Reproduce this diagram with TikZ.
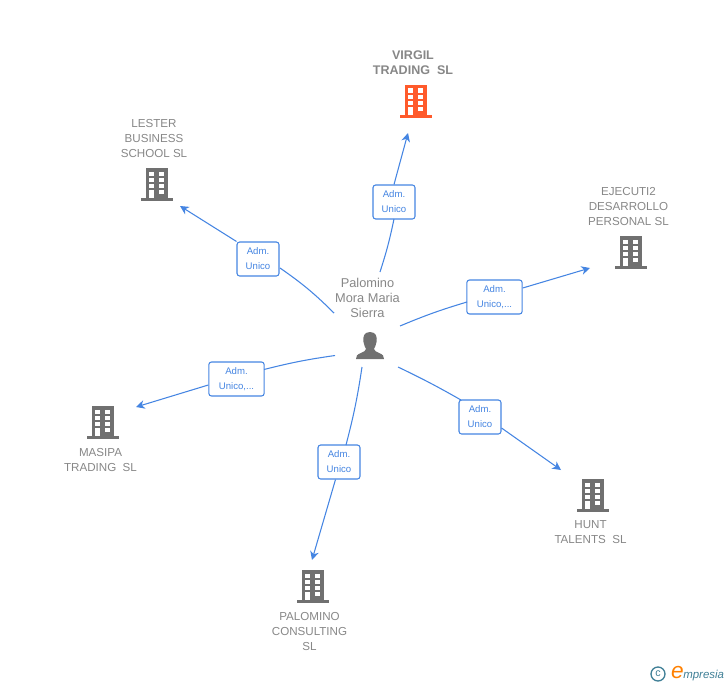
\documentclass[tikz,border=0pt]{standalone}
\usepackage{fontspec}
\setmainfont{Liberation Sans}
\usetikzlibrary{arrows.meta}
\definecolor{linkblue}{HTML}{4585E2}
\definecolor{labgray}{HTML}{878787}
\definecolor{icongray}{HTML}{707070}
\definecolor{hot}{HTML}{FF5A2B}
\definecolor{teal1}{HTML}{3F7F96}
\tikzset{
  x=0.75pt,y=-0.75pt,
  conn/.style={draw=linkblue,line width=0.8pt},
  arrowconn/.style={conn,-{Stealth[length=6.5pt,width=6.5pt,inset=2pt]}},
  role/.style={draw=linkblue,line width=0.8pt,rounded corners=2pt,fill=white,inner sep=0pt,
     text width=#1,minimum height=25.5pt,align=center,text=linkblue,font=\fontsize{7.2}{11.2}\selectfont},
  role/.default=31.5pt,
  company/.style={text=labgray,align=center,inner sep=0pt,font=\fontsize{8.7}{11.2}\selectfont},
  hotcompany/.style={text=labgray,align=center,inner sep=0pt,font=\fontsize{9.4}{11.2}\selectfont\bfseries},
  person/.style={text=labgray,align=center,inner sep=0pt,font=\fontsize{9.6}{11.2}\selectfont},
  pics/bldg/.style={code={
    \fill[#1] (-10.5,-16) rectangle (11.5,14);
    \fill[#1] (-15,13.5) rectangle (16.5,16.5);
    \foreach \yy in {-12.5,-6,0,6} {
      \fill[white] (2.7,\yy) rectangle (7.5,\yy+4.4);
    }
    \foreach \yy in {-12.5,-6,0} {
      \fill[white] (-7.3,\yy) rectangle (-2.5,\yy+4.4);
    }
    \fill[white] (-7.3,6) rectangle (-2.5,13.5);
  }}
}
\begin{document}
\begin{tikzpicture}
\useasboundingbox (0,0) rectangle (728,685);
% buildings
\pic at (415,101) {bldg=hot};
\pic at (156,184) {bldg=icongray};
\pic at (630,252) {bldg=icongray};
\pic at (102,422) {bldg=icongray};
\pic at (592,495) {bldg=icongray};
\pic at (312,586) {bldg=icongray};
% person
\fill[icongray] (370,332) .. controls (364,332) and (362.5,337) .. (363.5,342)
  .. controls (364,345) and (365,347) .. (366,349)
  .. controls (365.5,351) and (364,351.5) .. (361,353)
  .. controls (357,354.5) and (356,356) .. (356,359) -- (384,359)
  .. controls (384,356) and (383,354.5) .. (379,353)
  .. controls (376,351.5) and (374.5,351) .. (374,349)
  .. controls (375,347) and (376,345) .. (376.5,342)
  .. controls (377.5,337) and (376,332) .. (370,332) -- cycle;
% labels
\node[hotcompany] (tvirgil) at (413,62.8) {VIRGIL\\TRADING\ \ SL};
\node[company] (tlester) at (154,138.5) {LESTER\\BUSINESS\\SCHOOL SL};
\node[company] (tejecuti) at (628.5,206.5) {EJECUTI2\\DESARROLLO\\PERSONAL SL};
\node[company] (tmasipa) at (100.5,459.8) {MASIPA\\TRADING\ \ SL};
\node[company] (thunt) at (590.5,532) {HUNT\\TALENTS\ \ SL};
\node[company] (tpalomino) at (309.5,631.5) {PALOMINO\\CONSULTING\\SL};
\node[person] (center) at (367.5,298) {Palomino\\Mora Maria\\Sierra};
% role boxes
\node[role] (rvirgil) at (394,202) {Adm.\\Unico};
\node[role] (rlester) at (258,259) {Adm.\\Unico};
\node[role=41.5pt] (rejecuti) at (494.5,297) {Adm.\\Unico,...};
\node[role=41.5pt] (rmasipa) at (236.5,379) {Adm.\\Unico,...};
\node[role] (rhunt) at (480,417) {Adm.\\Unico};
\node[role] (rpalomino) at (339,462) {Adm.\\Unico};
% free ends
\coordinate (s1) at (380,272); \coordinate (e1) at (408,133);
\coordinate (s2) at (334,313); \coordinate (e2) at (180,206);
\coordinate (s3) at (400,326); \coordinate (e3) at (590,268);
\coordinate (s4) at (398,367); \coordinate (e4) at (561,470);
\coordinate (s5) at (362,367); \coordinate (e5) at (312,560);
\coordinate (s6) at (335,355.5); \coordinate (e6) at (136,407);
\coordinate (i1) at (394,219); \coordinate (i2) at (280,268);
\coordinate (i3) at (467,302); \coordinate (i4) at (461,400);
\coordinate (i5) at (346,445); \coordinate (i6) at (264,369.5);
% connectors
\draw[conn] (s1) to[bend right=3] (i1);
\draw[arrowconn] (rvirgil.north) to (e1);
\draw[conn] (s2) to[bend right=5] (i2);
\draw[arrowconn] (rlester.north west) to (e2);
\draw[conn] (s3) to[bend left=3] (i3);
\draw[arrowconn] (rejecuti.east) ++(0,-9) to (e3);
\draw[conn] (s4) to[bend left=2] (i4);
\draw[arrowconn] (rhunt.east) ++(0,11) to (e4);
\draw[conn] (s5) to[bend left=3] (i5);
\draw[arrowconn] (rpalomino.south) ++(-3.5,0) to (e5);
\draw[conn] (s6) to[bend right=3] (i6);
\draw[arrowconn] (rmasipa.west) ++(0,6) to (e6);
% logo
\node[circle,draw=teal1,line width=1pt,inner sep=0pt,minimum size=10.5pt,text=teal1,font=\fontsize{8}{8}\selectfont] (copyr) at (658,674) {c};
\node[inner sep=0pt,anchor=base west,text=teal1,font=\fontsize{8.6}{10}\selectfont\itshape] (brand) at (683,678) {mpresia};
\node[inner sep=0pt,anchor=base east,text=orange,font=\fontsize{17}{17}\selectfont\itshape] (brande) at (684,678) {e};
\end{tikzpicture}
\end{document}
